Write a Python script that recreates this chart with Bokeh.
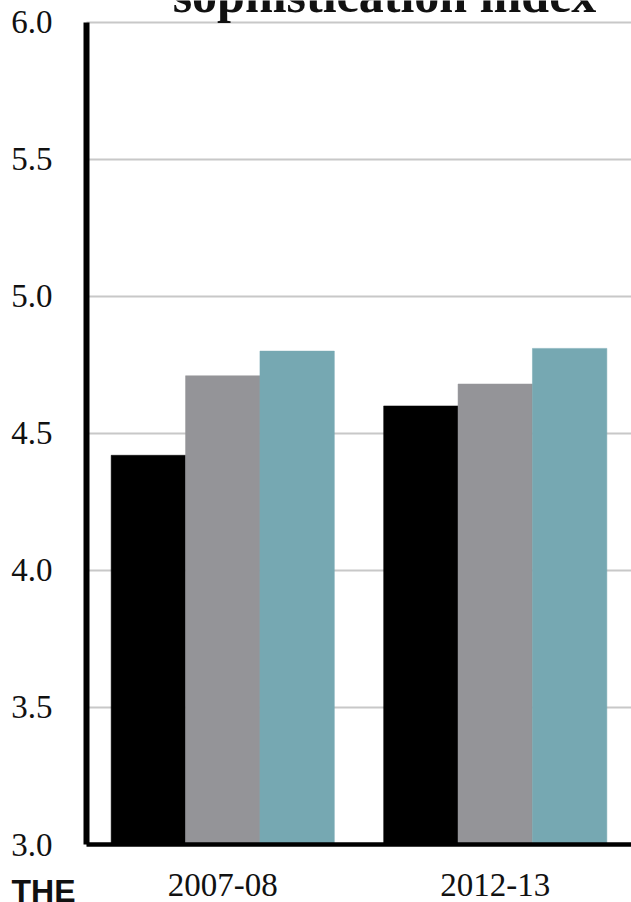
from bokeh.plotting import figure
from bokeh.models import ColumnDataSource, Range1d, Label, FixedTicker
from bokeh.transform import dodge
from bokeh.embed import file_html
from bokeh.resources import INLINE

years = ["2007-08", "2012-13"]
series_a = [4.42, 4.60]   # black
series_b = [4.71, 4.68]   # gray
series_c = [4.80, 4.81]   # teal
y_ticks = [3.0, 3.5, 4.0, 4.5, 5.0, 5.5, 6.0]

W, H = 631, 902
AX_X, TOP_Y, BOT_Y = 86.0, 21.7, 844.0          # pixel positions of the axes
px_per_x = (W - AX_X) / len(years)
px_per_y = (BOT_Y - TOP_Y) / (y_ticks[-1] - y_ticks[0])

x_centers = [i + 0.5 for i in range(len(years))]
source = ColumnDataSource(data=dict(x=x_centers, a=series_a, b=series_b, c=series_c))

x_range = Range1d(-AX_X / px_per_x, float(len(years)))
y_range = Range1d(y_ticks[0] - (H - BOT_Y) / px_per_y, y_ticks[-1] + TOP_Y / px_per_y)

p = figure(width=W, height=H, x_range=x_range, y_range=y_range,
           output_backend="svg", toolbar_location=None,
           min_border_left=0, min_border_right=0, min_border_top=0, min_border_bottom=0)
p.title.text = ""
p.title.visible = False
p.outline_line_color = None
p.background_fill_color = "white"
p.border_fill_color = "white"

bw = 0.273
for col, off, color in [("a", -bw, "#000000"), ("b", 0.0, "#949498"), ("c", bw, "#76A8B2")]:
    p.vbar(x=dodge("x", off), top=col, bottom=y_ticks[0], width=bw, source=source,
           fill_color=color, line_color=color, line_width=0.5)

SERIF = "'Liberation Serif', 'Times New Roman', serif"

p.xaxis.fixed_location = y_ticks[0]
p.yaxis.fixed_location = 0.0
p.xaxis.bounds = (0.0, float(len(years)))
p.yaxis.bounds = (y_ticks[0], y_ticks[-1])
p.xaxis.ticker = FixedTicker(ticks=x_centers)
p.xaxis.major_label_overrides = {xc: yr for xc, yr in zip(x_centers, years)}
p.yaxis.ticker = FixedTicker(ticks=y_ticks)
p.yaxis.major_label_overrides = {t: f"{t:.1f}" for t in y_ticks}
for ax in (p.xaxis, p.yaxis):
    ax.major_tick_line_color = None
    ax.minor_tick_line_color = None
    ax.axis_line_color = "black"
    ax.major_label_text_font = SERIF
    ax.major_label_text_font_size = "33px"
    ax.major_label_text_color = "#111111"
p.yaxis.axis_line_width = 6
p.xaxis.axis_line_width = 4.5
p.yaxis.major_label_standoff = 28
p.xaxis.major_label_standoff = 23

p.xgrid.grid_line_color = None
g = p.ygrid[0]
g.ticker = FixedTicker(ticks=y_ticks)
if "cross_bounds" in g.properties():
    g.cross_bounds = (0.0, float(len(years)))
    g.grid_line_color = "#c8c8c8"
    g.grid_line_width = 2
else:
    g.grid_line_color = None
    p.segment(x0=[0.0] * len(y_ticks), x1=[float(len(years))] * len(y_ticks),
              y0=y_ticks, y1=y_ticks, line_color="#c8c8c8", line_width=2, level="underlay")

title = Label(x=(384 - AX_X) / px_per_x, y=y_ticks[-1] + (TOP_Y - 22.3) / px_per_y,
              text="sophistication index",
              text_font=SERIF, text_font_style="bold", text_font_size="50px",
              text_align="center", text_baseline="bottom", text_color="#111111")
p.add_layout(title)

logo = Label(x=(43 - AX_X) / px_per_x, y=y_ticks[0] - (908 - BOT_Y) / px_per_y, text="THE",
             text_font="'Liberation Sans', Arial, sans-serif",
             text_font_style="bold", text_font_size="32px",
             text_align="center", text_baseline="bottom", text_color="#111111")
p.add_layout(logo)

open("out.html", "w").write(file_html(p, INLINE))
